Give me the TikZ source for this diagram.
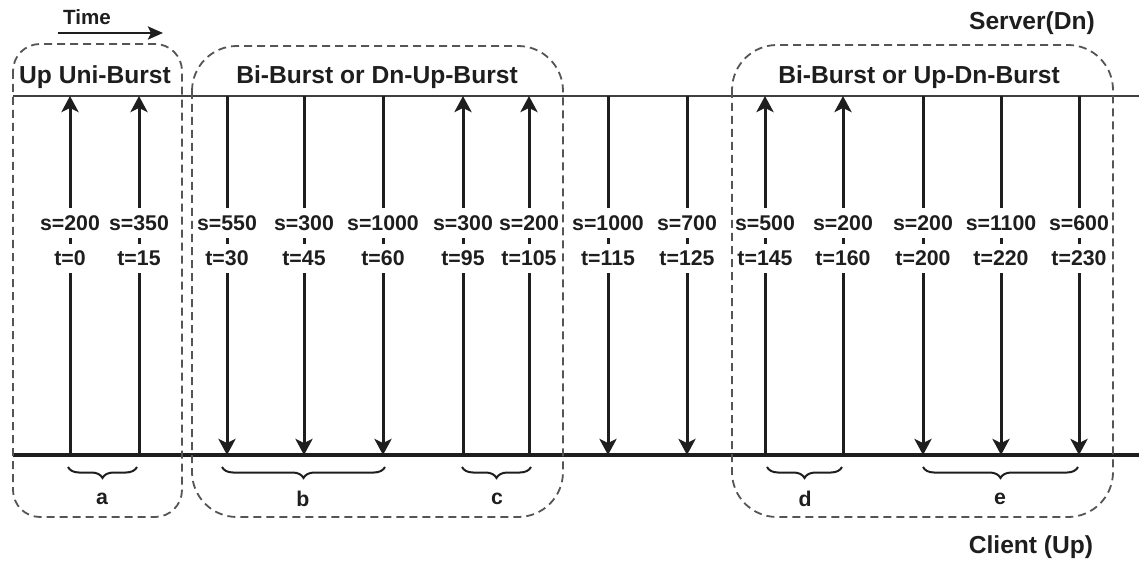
\documentclass[tikz,border=0pt]{standalone}
\usepackage{fontspec}
\setmainfont{Liberation Sans}
\usetikzlibrary{arrows.meta,decorations.pathreplacing}
\definecolor{ink}{HTML}{1E1E1E}
\definecolor{boxgray}{HTML}{555555}
\begin{document}
\begin{tikzpicture}[x=1pt,y=-1pt,
  lbl/.style={font=\fontsize{21.3}{24}\selectfont\bfseries, text=ink, fill=white,
              inner xsep=1pt, inner ysep=0pt, minimum height=29pt},
  tag/.style={font=\fontsize{21.3}{24}\selectfont\bfseries, text=ink, inner sep=0pt},
  title/.style={font=\fontsize{24.6}{28}\selectfont\bfseries, text=ink, inner sep=0pt},
  msg/.style={draw=ink, line width=3pt, -{Stealth[length=16pt,width=17pt,inset=4pt]}},
  serverline/.style={draw=ink!85, line width=2pt},
  clientline/.style={draw=ink, line width=4pt},
  burst/.style={draw=boxgray, line width=1.8pt, dash pattern=on 8pt off 5pt},
  brc/.style={draw=ink, line width=2pt,
              decorate, decoration={brace, mirror, amplitude=11pt, aspect=0.5}},
]
\useasboundingbox (0,0) rectangle (1139,561);

% time direction
\node[font=\fontsize{20.6}{24}\selectfont\bfseries, text=ink, inner sep=0pt] (time) at (87,17) {Time};
\coordinate (tA) at (58,33);
\coordinate (tB) at (163,33);
\draw[draw=ink, line width=2.6pt, -{Stealth[length=15pt,width=13pt,inset=3pt]}] (tA) -- (tB);

% end-point labels
\node[title] (server) at (1032,23) {Server(Dn)};
\node[title] (client) at (1031,547) {Client (Up)};

% server and client time lines
\coordinate (sL) at (13,96);
\coordinate (sR) at (1139,96);
\coordinate (cL) at (13,455);
\coordinate (cR) at (1139,455);
\draw[serverline] (sL) -- (sR);
\draw[clientline] (cL) -- (cR);

% upstream packets (client -> server)
\foreach \x/\s/\t/\n in {70/200/0/1, 139/350/15/2, 463/300/95/6, 529/200/105/7,
                         765/500/145/10, 843/200/160/11} {
  \coordinate (top\n) at (\x,96);
  \coordinate (bot\n) at (\x,455);
  \draw[msg] (bot\n) -- (top\n);
  \node[lbl] (s\n) at (\x,223) {s=\s};
  \node[lbl] (t\n) at (\x,258) {t=\t};
}

% downstream packets (server -> client)
\foreach \x/\s/\t/\n in {227/550/30/3, 304/300/45/4, 383/1000/60/5, 608/1000/115/8,
                         687/700/125/9, 923/200/200/12, 1001/1100/220/13, 1079/600/230/14} {
  \coordinate (top\n) at (\x,96);
  \coordinate (bot\n) at (\x,455);
  \draw[msg] (top\n) -- (bot\n);
  \node[lbl] (s\n) at (\x,223) {s=\s};
  \node[lbl] (t\n) at (\x,258) {t=\t};
}

% burst groupings
\draw[burst, rounded corners=27pt] (13,44) rectangle (182,517);
\draw[burst, rounded corners=45pt] (192,46) rectangle (563,517);
\draw[burst, rounded corners=45pt] (732,45) rectangle (1113,517);
\node[title] (g1) at (95,77) {Up Uni-Burst};
\node[title] (g2) at (377,77) {Bi-Burst or Dn-Up-Burst};
\node[title] (g3) at (919,77) {Bi-Burst or Up-Dn-Burst};

% sub-burst braces
\draw[brc] (68,467) -- (137,467);
\draw[brc] (222,467) -- (385,467);
\draw[brc] (462,467) -- (531,467);
\draw[brc] (767,467) -- (842,467);
\draw[brc] (923,467) -- (1078,467);
\node[tag] (ba) at (102,499) {a};
\node[tag] (bb) at (303,499) {b};
\node[tag] (bc) at (497,499) {c};
\node[tag] (bd) at (805,499) {d};
\node[tag] (be) at (1000,499) {e};
\end{tikzpicture}
\end{document}
